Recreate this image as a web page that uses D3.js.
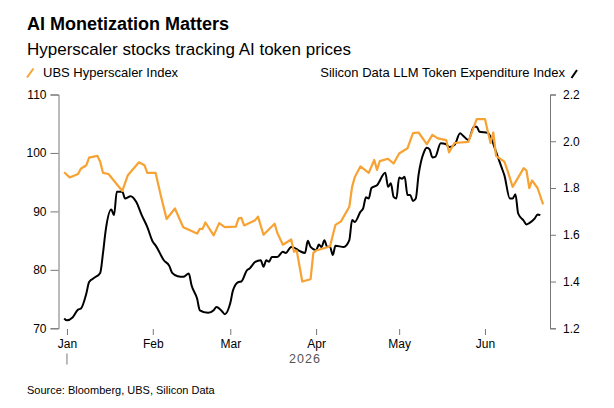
<!DOCTYPE html>
<html>
<head>
<meta charset="utf-8">
<script src="https://cdn.jsdelivr.net/npm/d3@7"></script>
<style>
  html, body { margin: 0; padding: 0; background: #fff; }
  svg { display: block; font-family: "Liberation Sans", Arial, sans-serif; }
</style>
</head>
<body>
<div id="chart"></div>
<script>
// UBS Hyperscaler Index (left axis)
const ubsSeries = [
  ["2025-12-31", 96.7], ["2026-01-02", 95.8], ["2026-01-05", 96.4], ["2026-01-06", 97.3],
  ["2026-01-08", 97.9], ["2026-01-09", 99.2], ["2026-01-12", 99.5], ["2026-01-13", 98.5],
  ["2026-01-14", 96.6], ["2026-01-16", 96.4], ["2026-01-21", 93.5], ["2026-01-23", 96.2],
  ["2026-01-27", 98.4], ["2026-01-29", 97.9], ["2026-01-30", 96.6], ["2026-02-02", 96.6],
  ["2026-02-04", 92.5], ["2026-02-06", 88.7], ["2026-02-09", 90.5], ["2026-02-12", 87.3],
  ["2026-02-17", 86.2], ["2026-02-18", 87.0], ["2026-02-19", 87.0], ["2026-02-20", 88.1],
  ["2026-02-23", 85.9], ["2026-02-25", 88.0], ["2026-02-27", 87.3], ["2026-03-03", 87.4],
  ["2026-03-04", 88.8], ["2026-03-05", 88.9], ["2026-03-06", 87.6], ["2026-03-10", 88.5],
  ["2026-03-11", 89.1], ["2026-03-13", 86.0], ["2026-03-17", 87.9], ["2026-03-18", 86.3],
  ["2026-03-20", 84.3], ["2026-03-23", 85.2], ["2026-03-24", 83.1], ["2026-03-25", 83.3],
  ["2026-03-27", 78.0], ["2026-03-30", 78.4], ["2026-03-31", 82.9], ["2026-04-01", 83.3],
  ["2026-04-06", 84.0], ["2026-04-08", 87.7], ["2026-04-10", 88.3], ["2026-04-13", 90.8],
  ["2026-04-14", 94.2], ["2026-04-15", 95.9], ["2026-04-17", 97.7], ["2026-04-20", 96.6],
  ["2026-04-22", 98.8], ["2026-04-23", 97.1], ["2026-04-24", 98.6], ["2026-04-27", 99.0],
  ["2026-04-29", 98.2], ["2026-05-01", 99.9], ["2026-05-04", 100.8], ["2026-05-06", 103.4],
  ["2026-05-08", 103.5], ["2026-05-11", 101.5], ["2026-05-13", 103.1], ["2026-05-15", 102.5],
  ["2026-05-18", 102.2], ["2026-05-19", 100.1], ["2026-05-21", 101.7], ["2026-05-26", 101.9],
  ["2026-05-29", 105.8], ["2026-06-01", 105.8], ["2026-06-03", 101.7], ["2026-06-04", 103.5],
  ["2026-06-05", 99.5], ["2026-06-08", 98.5], ["2026-06-09", 97.2], ["2026-06-11", 94.2],
  ["2026-06-15", 97.4], ["2026-06-16", 97.0], ["2026-06-17", 94.0], ["2026-06-18", 95.3],
  ["2026-06-20", 94.0], ["2026-06-22", 91.2]
];

// Silicon Data LLM Token Expenditure Index (right axis)
const llmSeries = [
  ["2025-12-31", 1.242], ["2026-01-01", 1.234], ["2026-01-03", 1.246], ["2026-01-05", 1.280],
  ["2026-01-06", 1.284], ["2026-01-08", 1.349], ["2026-01-09", 1.398], ["2026-01-11", 1.417],
  ["2026-01-13", 1.437], ["2026-01-14", 1.520], ["2026-01-15", 1.620], ["2026-01-17", 1.708],
  ["2026-01-18", 1.684], ["2026-01-19", 1.784], ["2026-01-21", 1.784], ["2026-01-22", 1.755],
  ["2026-01-24", 1.765], ["2026-01-26", 1.741], ["2026-01-28", 1.684], ["2026-01-30", 1.634],
  ["2026-02-01", 1.570], ["2026-02-02", 1.555], ["2026-02-05", 1.491], ["2026-02-07", 1.466],
  ["2026-02-08", 1.437], ["2026-02-10", 1.423], ["2026-02-12", 1.420], ["2026-02-14", 1.434],
  ["2026-02-15", 1.384], ["2026-02-17", 1.327], ["2026-02-18", 1.277], ["2026-02-21", 1.266],
  ["2026-02-23", 1.277], ["2026-02-24", 1.291], ["2026-02-26", 1.273], ["2026-02-27", 1.260],
  ["2026-03-01", 1.308], ["2026-03-02", 1.363], ["2026-03-04", 1.398], ["2026-03-05", 1.400],
  ["2026-03-07", 1.448], ["2026-03-08", 1.456], ["2026-03-10", 1.484], ["2026-03-12", 1.491],
  ["2026-03-13", 1.463], ["2026-03-14", 1.491], ["2026-03-15", 1.485], ["2026-03-16", 1.505],
  ["2026-03-18", 1.505], ["2026-03-20", 1.527], ["2026-03-21", 1.522], ["2026-03-23", 1.548],
  ["2026-03-24", 1.545], ["2026-03-26", 1.531], ["2026-03-28", 1.522], ["2026-03-29", 1.574],
  ["2026-03-30", 1.548], ["2026-04-01", 1.534], ["2026-04-02", 1.558], ["2026-04-03", 1.548],
  ["2026-04-04", 1.577], ["2026-04-05", 1.548], ["2026-04-06", 1.550], ["2026-04-07", 1.513],
  ["2026-04-08", 1.553], ["2026-04-11", 1.548], ["2026-04-13", 1.577], ["2026-04-14", 1.663],
  ["2026-04-15", 1.655], ["2026-04-17", 1.698], ["2026-04-18", 1.713], ["2026-04-19", 1.760],
  ["2026-04-20", 1.755], ["2026-04-21", 1.800], ["2026-04-23", 1.812], ["2026-04-26", 1.865],
  ["2026-04-27", 1.805], ["2026-04-28", 1.820], ["2026-04-29", 1.762], ["2026-04-30", 1.755],
  ["2026-05-01", 1.845], ["2026-05-02", 1.840], ["2026-05-03", 1.848], ["2026-05-04", 1.770],
  ["2026-05-05", 1.770], ["2026-05-06", 1.745], ["2026-05-07", 1.755], ["2026-05-08", 1.855],
  ["2026-05-10", 1.955], ["2026-05-11", 1.972], ["2026-05-12", 1.965], ["2026-05-13", 1.931],
  ["2026-05-14", 1.933], ["2026-05-16", 1.991], ["2026-05-18", 1.987], ["2026-05-19", 1.975],
  ["2026-05-21", 1.984], ["2026-05-23", 2.034], ["2026-05-24", 2.025], ["2026-05-26", 2.005],
  ["2026-05-28", 2.062], ["2026-05-29", 2.062], ["2026-05-30", 2.041], ["2026-06-02", 2.036],
  ["2026-06-03", 2.019], ["2026-06-05", 1.955], ["2026-06-07", 1.888], ["2026-06-08", 1.855],
  ["2026-06-10", 1.755], ["2026-06-11", 1.755], ["2026-06-12", 1.773], ["2026-06-13", 1.691],
  ["2026-06-15", 1.660], ["2026-06-16", 1.644], ["2026-06-17", 1.650], ["2026-06-19", 1.670],
  ["2026-06-20", 1.687], ["2026-06-21", 1.684]
];

const leftTicks = [70, 80, 90, 100, 110];
const rightTicks = [1.2, 1.4, 1.6, 1.8, 2.0, 2.2];
const monthTicks = ["2026-01-01", "2026-02-01", "2026-03-01", "2026-04-01", "2026-05-01", "2026-06-01"];
const yearLabel = "2026";

const parse = d3.timeParse("%Y-%m-%d");
const ubs = ubsSeries.map(d => ({ date: parse(d[0]), value: d[1] }));
const llm = llmSeries.map(d => ({ date: parse(d[0]), value: d[1] }));
const months = monthTicks.map(parse);

const W = 614, H = 408;
const orange = "#f7a233";
const axisColor = "#777";
const font = "'Liberation Sans', Arial, sans-serif";

const svg = d3.select("#chart").append("svg")
  .attr("width", W)
  .attr("height", H)
  .attr("viewBox", `0 0 ${W} ${H}`);

// titles
svg.append("text")
  .attr("x", 27).attr("y", 29.5)
  .style("font-size", "18px").style("font-weight", "bold").style("fill", "#000")
  .text("AI Monetization Matters");

svg.append("text")
  .attr("x", 27).attr("y", 55)
  .style("font-size", "17px").style("fill", "#000")
  .text("Hyperscaler stocks tracking AI token prices");

// legend
svg.append("line")
  .attr("x1", 27).attr("y1", 77.5).attr("x2", 33.5).attr("y2", 68.5)
  .attr("stroke", orange).attr("stroke-width", 2);
svg.append("text")
  .attr("x", 43).attr("y", 77)
  .style("font-size", "13px").style("fill", "#000")
  .text("UBS Hyperscaler Index");

svg.append("line")
  .attr("x1", 571.5).attr("y1", 78).attr("x2", 577).attr("y2", 70)
  .attr("stroke", "#000").attr("stroke-width", 2);
svg.append("text")
  .attr("x", 565).attr("y", 77)
  .attr("text-anchor", "end")
  .style("font-size", "13px").style("fill", "#000")
  .text("Silicon Data LLM Token Expenditure Index");

// scales
const allDates = ubs.concat(llm).map(d => d.date);
const x = d3.scaleTime()
  .domain(d3.extent(allDates))
  .range([64.2, 543.1]);

const yL = d3.scaleLinear().domain([70, 110]).range([328.3, 94.5]);
const yR = d3.scaleLinear().domain([1.2, 2.2]).range([328.3, 94.5]);

// left axis
const gL = svg.append("g")
  .attr("transform", "translate(58.5,0)")
  .call(d3.axisLeft(yL).tickValues(leftTicks).tickSize(8).tickPadding(4));
gL.selectAll("path, line").attr("stroke", axisColor);
gL.selectAll("text").style("font-size", "12px").style("fill", "#000").style("font-family", font);

// right axis
const gR = svg.append("g")
  .attr("transform", "translate(550,0)")
  .call(d3.axisRight(yR).tickValues(rightTicks).tickSize(6).tickPadding(7).tickFormat(d3.format(".1f")));
gR.selectAll("path, line").attr("stroke", axisColor);
gR.selectAll("text").style("font-size", "12px").style("fill", "#000").style("font-family", font);

// bottom axis
const gX = svg.append("g")
  .attr("transform", "translate(0,329)")
  .call(d3.axisBottom(x).tickValues(months).tickSize(6).tickPadding(4).tickFormat(d3.timeFormat("%b")));
gX.select(".domain").remove();
gX.selectAll("line").attr("stroke", axisColor);
gX.selectAll("text").style("font-size", "12px").style("fill", "#000").style("font-family", font);

// year marker under first month
svg.append("line")
  .attr("x1", x(months[0])).attr("x2", x(months[0]))
  .attr("y1", 353.5).attr("y2", 364.5)
  .attr("stroke", axisColor);
svg.append("text")
  .attr("x", 305).attr("y", 362.5)
  .attr("text-anchor", "middle")
  .style("font-size", "12.5px").style("fill", "#555").style("letter-spacing", "1px")
  .text(yearLabel);

// lines
const lineL = d3.line().x(d => x(d.date)).y(d => yL(d.value));
const lineR = d3.line().x(d => x(d.date)).y(d => yR(d.value)).curve(d3.curveMonotoneX);

svg.append("path")
  .datum(llm)
  .attr("d", lineR)
  .attr("fill", "none")
  .attr("stroke", "#000")
  .attr("stroke-width", 2)
  .attr("stroke-linejoin", "round");

svg.append("path")
  .datum(ubs)
  .attr("d", lineL)
  .attr("fill", "none")
  .attr("stroke", orange)
  .attr("stroke-width", 2.2)
  .attr("stroke-linejoin", "round");

// source
svg.append("text")
  .attr("x", 27).attr("y", 393.5)
  .style("font-size", "11px").style("fill", "#000")
  .text("Source: Bloomberg, UBS, Silicon Data");
</script>
</body>
</html>
